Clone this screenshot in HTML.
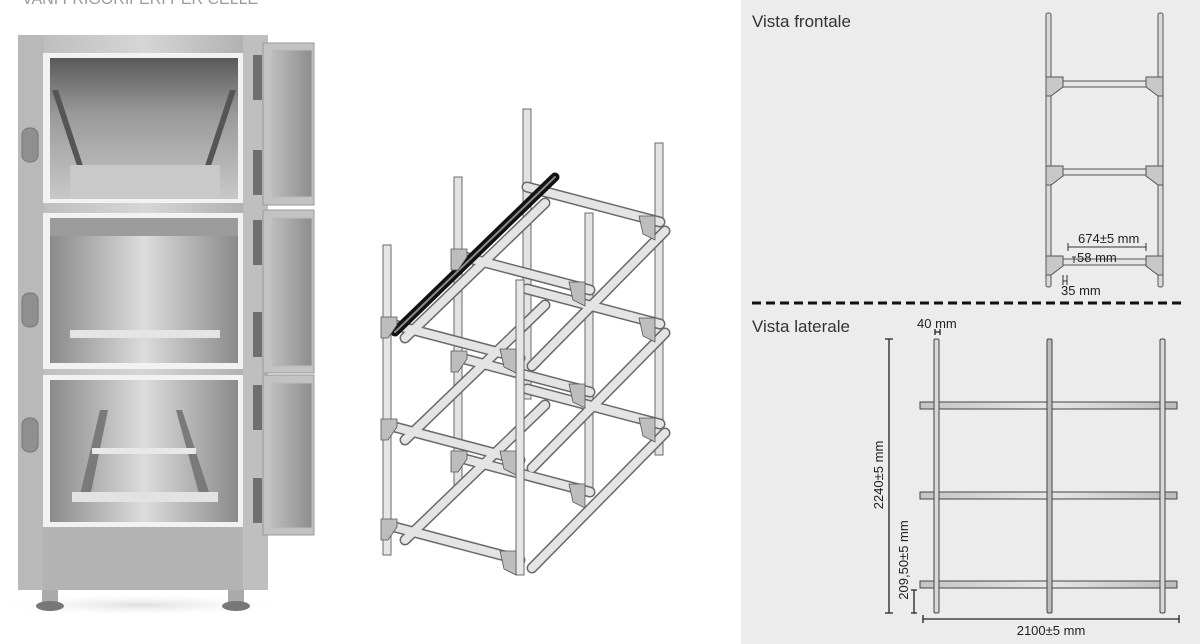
<!DOCTYPE html>
<html><head><meta charset="utf-8"><style>
html,body{margin:0;padding:0;background:#fff;}
body{width:1200px;height:644px;overflow:hidden;position:relative;font-family:"Liberation Sans Narrow","Liberation Sans",sans-serif;}
</style></head><body>
<svg width="1200" height="644" viewBox="0 0 1200 644" xmlns="http://www.w3.org/2000/svg" style="position:absolute;left:0;top:0">
<defs>
<linearGradient id="side" x1="0" x2="1"><stop offset="0" stop-color="#b8b8b8"/><stop offset="0.5" stop-color="#d6d6d6"/><stop offset="1" stop-color="#a9a9a9"/></linearGradient>
<linearGradient id="inner" x1="0" x2="0" y1="0" y2="1"><stop offset="0" stop-color="#5a5a5a"/><stop offset="0.4" stop-color="#9a9a9a"/><stop offset="1" stop-color="#c8c8c8"/></linearGradient>
<linearGradient id="inner2" x1="0" x2="1"><stop offset="0" stop-color="#8a8a8a"/><stop offset="0.5" stop-color="#dcdcdc"/><stop offset="1" stop-color="#8a8a8a"/></linearGradient>
<linearGradient id="door" x1="0" x2="1"><stop offset="0" stop-color="#bdbdbd"/><stop offset="1" stop-color="#8d8d8d"/></linearGradient>
<linearGradient id="bar" x1="0" x2="1"><stop offset="0" stop-color="#c4c4c4"/><stop offset="0.5" stop-color="#e6e6e6"/><stop offset="1" stop-color="#bcbcbc"/></linearGradient>
<radialGradient id="shadow" cx="0.5" cy="0.5" r="0.5"><stop offset="0" stop-color="#aaa" stop-opacity="0.4"/><stop offset="1" stop-color="#fff" stop-opacity="0"/></radialGradient>
</defs>

<text x="22" y="4" font-size="16" fill="#9a9a9a" font-family="Liberation Sans, sans-serif">VANI FRIGORIFERI PER CELLE</text>

<!-- cabinet -->
<ellipse cx="140" cy="605" rx="150" ry="12" fill="url(#shadow)"/>
<rect x="18" y="35" width="250" height="555" fill="url(#side)"/>
<rect x="18" y="35" width="26" height="555" fill="#b9b9b9"/>
<rect x="243" y="35" width="25" height="555" fill="#bfbfbf"/>
<rect x="43" y="53" width="200" height="150" fill="#f2f2f2"/>
<rect x="50" y="58" width="188" height="141" fill="url(#inner)"/>
<polygon points="52,90 80,175 86,175 58,90" fill="#555"/>
<polygon points="236,90 208,175 202,175 230,90" fill="#555"/>
<rect x="70" y="165" width="150" height="33" fill="#c9c9c9"/>
<rect x="43" y="213" width="200" height="156" fill="#f2f2f2"/>
<rect x="50" y="218" width="188" height="145" fill="url(#inner2)"/>
<rect x="70" y="330" width="150" height="8" fill="#e4e4e4"/>
<rect x="50" y="218" width="188" height="18" fill="#9c9c9c"/>
<rect x="43" y="375" width="200" height="152" fill="#f2f2f2"/>
<rect x="50" y="380" width="188" height="142" fill="url(#inner2)"/>
<polygon points="100,410 80,495 90,497 108,410" fill="#7a7a7a"/>
<polygon points="182,410 210,495 200,497 176,410" fill="#7a7a7a"/>
<rect x="92" y="448" width="104" height="6" fill="#e8e8e8"/>
<rect x="72" y="492" width="146" height="10" fill="#e2e2e2"/>
<rect x="43" y="527" width="200" height="63" fill="#b3b3b3"/>
<rect x="22" y="128" width="16" height="34" rx="7" fill="#8f8f8f" stroke="#777"/>
<rect x="22" y="293" width="16" height="34" rx="7" fill="#8f8f8f" stroke="#777"/>
<rect x="22" y="418" width="16" height="34" rx="7" fill="#8f8f8f" stroke="#777"/>
<rect x="42" y="590" width="16" height="14" fill="#aaa"/><ellipse cx="50" cy="606" rx="14" ry="5" fill="#777"/>
<rect x="228" y="590" width="16" height="14" fill="#aaa"/><ellipse cx="236" cy="606" rx="14" ry="5" fill="#777"/>
<rect x="263" y="43" width="51" height="162" fill="#c3c3c3" stroke="#999"/>
<rect x="272" y="50" width="40" height="147" fill="url(#door)" stroke="#bbb"/>
<rect x="263" y="210" width="51" height="163" fill="#c3c3c3" stroke="#999"/>
<rect x="272" y="218" width="40" height="148" fill="url(#door)" stroke="#bbb"/>
<rect x="263" y="375" width="51" height="160" fill="#c3c3c3" stroke="#999"/>
<rect x="272" y="383" width="40" height="145" fill="url(#door)" stroke="#bbb"/>
<g fill="#6f6f6f"><rect x="253" y="55" width="9" height="45"/><rect x="253" y="150" width="9" height="45"/><rect x="253" y="220" width="9" height="45"/><rect x="253" y="312" width="9" height="45"/><rect x="253" y="385" width="9" height="45"/><rect x="253" y="478" width="9" height="45"/></g>

<!-- isometric rack -->
<g stroke-linecap="round">
<g fill="#e2e2e2" stroke="#6a6a6a" stroke-width="1">
<rect x="523" y="109" width="8" height="290"/>
<rect x="655" y="143" width="8" height="312"/>
<rect x="454" y="177" width="8" height="308"/>
<rect x="585" y="213" width="8" height="277"/>
</g>
<g stroke="#6a6a6a" stroke-width="11" fill="none">
<path d="M527 187 L660 222 M457 255 L590 290 M387 323 L520 358 M405 338 L545 203 M532 366 L665 231"/>
<path d="M527 289 L660 324 M457 357 L590 392 M387 425 L520 460 M405 440 L545 305 M532 468 L665 333"/>
<path d="M527 389 L660 424 M457 457 L590 492 M387 525 L520 560 M405 540 L545 405 M532 568 L665 433"/>
</g>
<g stroke="#e4e4e4" stroke-width="8" fill="none">
<path d="M527 187 L660 222 M457 255 L590 290 M387 323 L520 358 M405 338 L545 203 M532 366 L665 231"/>
<path d="M527 289 L660 324 M457 357 L590 392 M387 425 L520 460 M405 440 L545 305 M532 468 L665 333"/>
<path d="M527 389 L660 424 M457 457 L590 492 M387 525 L520 560 M405 540 L545 405 M532 568 L665 433"/>
</g>
<path d="M395 332 L555 177" stroke="#111" stroke-width="9"/>
<path d="M395 332 L555 177" stroke="#8a8a8a" stroke-width="2"/>
<g fill="#e6e6e6" stroke="#6a6a6a" stroke-width="1">
<rect x="383" y="245" width="8" height="310"/>
<rect x="516" y="280" width="8" height="295"/>
</g>
<g fill="#bdbdbd" stroke="#555" stroke-width="0.8">
<path d="M381 317 h16 v8 l-9 13 h-7z M381 419 h16 v8 l-9 13 h-7z M381 519 h16 v8 l-9 13 h-7z"/>
<path d="M451 249 h16 v8 l-9 13 h-7z M451 351 h16 v8 l-9 13 h-7z M451 451 h16 v8 l-9 13 h-7z"/>
<path d="M500 349 h16 v24 l-12 -6 z M500 451 h16 v24 l-12 -6 z M500 551 h16 v24 l-12 -6 z"/>
<path d="M569 282 h16 v24 l-12 -6 z M569 384 h16 v24 l-12 -6 z M569 484 h16 v24 l-12 -6 z"/>
<path d="M639 216 h16 v24 l-12 -6 z M639 318 h16 v24 l-12 -6 z M639 418 h16 v24 l-12 -6 z"/>
</g>
</g>

<!-- right panel -->
<rect x="741" y="0" width="459" height="644" fill="#ececec"/>
<text x="752" y="27" font-size="17" fill="#333">Vista frontale</text>
<text x="752" y="332" font-size="17" fill="#333">Vista laterale</text>
<line x1="752" y1="303" x2="1185" y2="303" stroke="#111" stroke-width="3" stroke-dasharray="9,5"/>

<g stroke="#555" stroke-width="1" fill="#d9d9d9">
<rect x="1046" y="13" width="5" height="274" rx="2"/>
<rect x="1158" y="13" width="5" height="274" rx="2"/>
<rect x="1060" y="81" width="90" height="6" fill="#e5e5e5"/>
<rect x="1060" y="169" width="90" height="6" fill="#e5e5e5"/>
<rect x="1060" y="259" width="90" height="6" fill="#e5e5e5"/>
<g fill="#c8c8c8">
<path d="M1046 77 h17 v10 l-12 9 h-5z M1163 77 h-17 v10 l12 9 h5z"/>
<path d="M1046 166 h17 v10 l-12 9 h-5z M1163 166 h-17 v10 l12 9 h5z"/>
<path d="M1046 256 h17 v10 l-12 9 h-5z M1163 256 h-17 v10 l12 9 h5z"/>
</g>
</g>
<g fill="none" stroke="#333" stroke-width="1">
<path d="M1068 247 H1146 M1068 243 v8 M1146 243 v8"/>
<path d="M1072 257 h4 M1074 257 v6 M1063 275 v10 M1067 275 v10 M1063 281 h4"/>
</g>
<text x="1078" y="243" font-size="13" fill="#222">674±5 mm</text>
<text x="1077" y="262" font-size="13" fill="#222">58 mm</text>
<text x="1061" y="295" font-size="13" fill="#222">35 mm</text>

<g stroke="#444" stroke-width="1">
<rect x="920" y="402" width="257" height="7" fill="url(#bar)"/>
<rect x="920" y="492" width="257" height="7" fill="url(#bar)"/>
<rect x="920" y="581" width="257" height="7" fill="url(#bar)"/>
<rect x="934" y="339" width="5" height="274" rx="1.5" fill="#d8d8d8"/>
<rect x="1047" y="339" width="5" height="274" rx="1.5" fill="#bdbdbd"/>
<rect x="1160" y="339" width="5" height="274" rx="1.5" fill="#d8d8d8"/>
</g>
<g fill="none" stroke="#222" stroke-width="1.3">
<path d="M889 339 V613 M885 339 h8 M885 613 h8"/>
<path d="M914 590 V613 M911 590 h6 M911 613 h6"/>
<path d="M923 619 H1179 M923 615 v8 M1179 615 v8"/>
<path d="M935 332 h5 M935 329 v6 M940 329 v6"/>
</g>
<text x="917" y="328" font-size="13" fill="#222">40 mm</text>
<text transform="translate(883,475) rotate(-90)" text-anchor="middle" font-size="13" fill="#222">2240±5 mm</text>
<text transform="translate(908,560) rotate(-90)" text-anchor="middle" font-size="13" fill="#222">209,50±5 mm</text>
<text x="1051" y="635" text-anchor="middle" font-size="13" fill="#222">2100±5 mm</text>
</svg>
</body></html>
